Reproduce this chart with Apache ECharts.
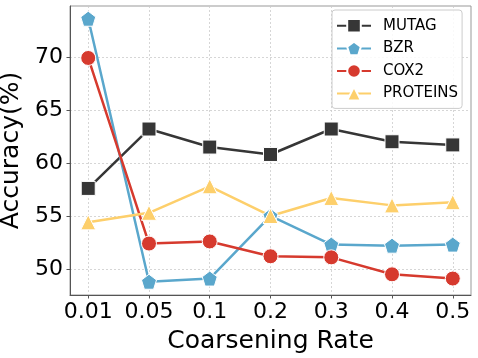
<!DOCTYPE html>
<html>
<head>
<meta charset="utf-8">
<script src="https://cdn.jsdelivr.net/npm/echarts@6/dist/echarts.min.js"></script>
<style>
html, body { margin: 0; padding: 0; background: #fff; }
#chart { width: 478px; height: 358px; }
</style>
</head>
<body>
<div id="chart"></div>
<script>
// coarsening rates on the x axis
var rates = ['0.01', '0.05', '0.1', '0.2', '0.3', '0.4', '0.5'];
var xTicks = [0, 1, 2, 3, 4, 5, 6];
var yTicks = [50, 55, 60, 65, 70];

// accuracy (%) per dataset
var mutag = [57.6, 63.2, 61.5, 60.8, 63.2, 62.0, 61.7];
var bzr = [73.6, 48.8, 49.1, 55.0, 52.3, 52.2, 52.3];
var cox2 = [69.9, 52.4, 52.6, 51.2, 51.1, 49.5, 49.1];
var proteins = [54.4, 55.3, 57.8, 55.0, 56.7, 56.0, 56.3];

var pentagon = 'path://M0,-1L0.951,-0.309L0.588,0.809L-0.588,0.809L-0.951,-0.309Z';
var font = 'DejaVu Sans';

function pairs(vals) {
    return vals.map(function (v, i) { return [i, v]; });
}

function makeSeries(name, vals, color, symbol, size) {
    return {
        name: name,
        type: 'line',
        data: pairs(vals),
        symbol: symbol,
        symbolSize: size,
        lineStyle: { color: color, width: 2.5 },
        itemStyle: { color: color, borderColor: '#fff', borderWidth: 1 },
        emphasis: { disabled: true },
        animation: false
    };
}

var chart = echarts.init(document.getElementById('chart'));
chart.setOption({
    animation: false,
    grid: {
        left: 70, right: 7, top: 6, bottom: 63,
        outerBoundsMode: 'none',
        show: true, borderColor: '#999', borderWidth: 1
    },
    legend: {
        orient: 'vertical',
        left: 332, top: 10,
        padding: [8, 4, 7, 4],
        itemWidth: 34, itemHeight: 17, itemGap: 7,
        backgroundColor: 'rgba(255,255,255,0.85)',
        borderColor: '#ccc', borderWidth: 1, borderRadius: 3,
        textStyle: { fontFamily: font, fontSize: 15, color: '#000', padding: [0, 0, 0, 7] },
        data: ['MUTAG', 'BZR', 'COX2', 'PROTEINS']
    },
    xAxis: {
        type: 'value',
        min: -0.3, max: 6.3,
        name: 'Coarsening Rate',
        nameLocation: 'middle',
        nameGap: 34,
        nameTextStyle: { fontFamily: font, fontSize: 25, color: '#000' },
        axisLine: { show: true, onZero: false, lineStyle: { color: '#555', width: 1 } },
        axisTick: { show: true, length: 3.5, customValues: xTicks, lineStyle: { color: '#555' } },
        axisLabel: {
            customValues: xTicks,
            formatter: function (v) { return rates[Math.round(v)]; },
            fontFamily: font, fontSize: 22, color: '#000', margin: 6
        },
        splitLine: { show: true, lineStyle: { color: '#ccc', type: [2, 2], width: 0.8 } }
    },
    yAxis: {
        type: 'value',
        min: 47.55, max: 74.8,
        name: 'Accuracy(%)',
        nameLocation: 'middle',
        nameGap: 44,
        nameTextStyle: { fontFamily: font, fontSize: 25, color: '#000' },
        axisLine: { show: true, onZero: false, lineStyle: { color: '#555', width: 1 } },
        axisTick: { show: true, length: 3.5, customValues: yTicks, lineStyle: { color: '#555' } },
        axisLabel: {
            customValues: yTicks,
            fontFamily: font, fontSize: 22, color: '#000', margin: 7
        },
        splitLine: { show: true, lineStyle: { color: '#ccc', type: [2, 2], width: 0.8 } }
    },
    series: [
        makeSeries('MUTAG', mutag, '#363636', 'rect', 14),
        makeSeries('BZR', bzr, '#5aa7cc', pentagon, 15),
        makeSeries('COX2', cox2, '#d63a2e', 'circle', 15),
        makeSeries('PROTEINS', proteins, '#fdcf6b', 'triangle', 15)
    ]
});
</script>
</body>
</html>
